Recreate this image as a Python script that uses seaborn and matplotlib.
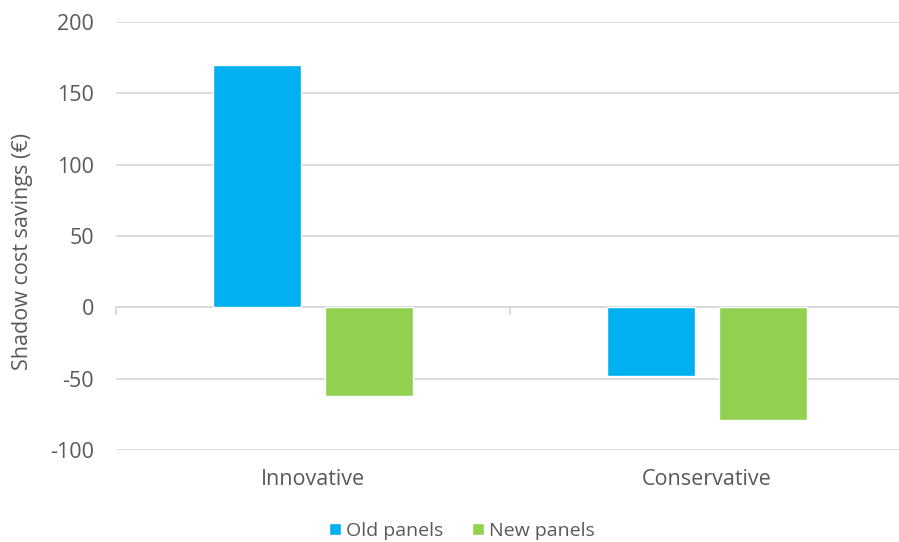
import matplotlib
matplotlib.use("Agg")
import matplotlib.pyplot as plt
import matplotlib.transforms as mtransforms
import seaborn as sns
import pandas as pd

categories = ["Innovative", "Conservative"]
series = ["Old panels", "New panels"]
old_panels = [170, -48]
new_panels = [-62, -79]
yticks = [-100, -50, 0, 50, 100, 150, 200]
colors = ["#00B0F0", "#92D050"]

df = pd.DataFrame({
    "Scenario": categories * 2,
    "Panels": [series[0]] * 2 + [series[1]] * 2,
    "Savings": old_panels + new_panels,
})

sns.set_theme(style="white")
plt.rcParams["font.family"] = ["Open Sans", "DejaVu Sans"]
text_color = "#595959"
grid_color = "#D9D9D9"

fig = plt.figure(figsize=(8.99, 5.42), dpi=100)
ax = fig.add_axes([116 / 899, 1 - 450 / 542, (904 - 116) / 899, (450 - 22) / 542])

sns.barplot(data=df, x="Scenario", y="Savings", hue="Panels", order=categories,
            hue_order=series, palette=colors, width=0.568, gap=0.215,
            saturation=1, errorbar=None, ax=ax, legend=True, zorder=3)

ax.set_xlim(-0.5, 1.5)
ax.set_ylim(-100, 200)
ax.set_yticks(yticks)
ax.set_yticklabels([str(v) for v in yticks], color=text_color, fontsize=15.5)
ax.tick_params(axis="y", length=0, pad=16)
ax.yaxis.grid(True, color=grid_color, linewidth=1.3, zorder=0)
for s in ax.spines.values():
    s.set_visible(False)

# category axis at zero
ax.spines["bottom"].set_visible(True)
ax.spines["bottom"].set_position(("data", 0))
ax.spines["bottom"].set_color(grid_color)
ax.spines["bottom"].set_linewidth(1.3)
ax.spines["bottom"].set_zorder(2)
ax.set_xticks([-0.5, 0.5, 1.5])
ax.set_xticklabels([])
ax.tick_params(axis="x", length=6, width=1.3, color=grid_color, direction="out", bottom=True)

trans = mtransforms.blended_transform_factory(ax.transData, ax.transAxes)
for i, c in enumerate(categories):
    ax.text(i, -0.068, c, transform=trans, ha="center", va="center",
            fontsize=15.5, color=text_color)

ax.set_xlabel("")
ax.set_ylabel("Shadow cost savings (€)", fontsize=15.5, color=text_color, labelpad=10)
ax.yaxis.set_label_coords(-0.105, (450 - 251) / 428)

leg = ax.legend(loc="center", bbox_to_anchor=(462 / 899, 1 - 531 / 542),
                bbox_transform=fig.transFigure, ncol=2, frameon=False,
                fontsize=14, handlelength=0.6, handleheight=0.6,
                handletextpad=0.25, columnspacing=1.5)
for t in leg.get_texts():
    t.set_color(text_color)

fig.savefig("out.png", dpi=100)
